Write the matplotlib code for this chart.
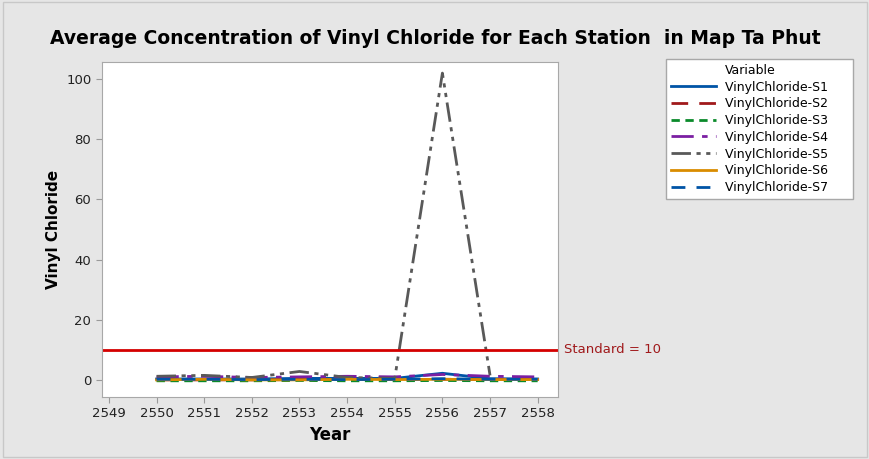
import matplotlib.pyplot as plt
from matplotlib.lines import Line2D
import numpy as np

years = [2550, 2551, 2552, 2553, 2554, 2555, 2556, 2557, 2558]
s1 = [0.3, 0.3, 0.3, 0.5, 0.5, 0.5, 2.2, 0.4, 0.3]
s2 = [0.0, 0.0, 0.0, 0.1, 0.1, 0.1, 0.2, 0.1, 0.1]
s3 = [-0.3, -0.3, -0.3, -0.2, -0.3, -0.3, -0.2, -0.3, -0.3]
s4 = [1.0, 1.2, 0.8, 1.0, 1.2, 1.0, 1.8, 1.2, 1.0]
s5 = [1.2, 1.5, 0.8, 2.8, 0.8, 0.5, 102.0, 1.5, np.nan]
s6 = [0.0, 0.2, 0.0, 0.0, 0.2, 0.1, 0.2, 0.1, 0.1]
s7 = [0.2, 0.2, 0.1, 0.2, 0.1, 0.2, 0.4, 0.2, 0.2]
standard = 10

labels = ['VinylChloride-S1', 'VinylChloride-S2', 'VinylChloride-S3',
          'VinylChloride-S4', 'VinylChloride-S5', 'VinylChloride-S6',
          'VinylChloride-S7']
series = [s1, s2, s3, s4, s5, s6, s7]
colors = ['#0054a6', '#a0191b', '#0a8a2a', '#7b1fa2', '#595959', '#d98c00', '#0054a6']
dashes = [(None, None), (6, 4), (3, 2), (8, 3, 2, 3), (7, 2, 1.5, 2, 1.5, 2),
          (None, None), (5, 4)]

fig = plt.figure(figsize=(8.7, 4.59), dpi=100, facecolor='#e6e6e6')
ax = fig.add_axes([0.117, 0.135, 0.524, 0.73])

# first legend row is just the "Variable" header
handles = [Line2D([], [], color='none')]
for y, c, d, lab in zip(series, colors, dashes, labels):
    ln, = ax.plot(years, y, color=c, lw=2, label=lab)
    if d[0] is not None:
        ln.set_dashes(d)
    handles.append(ln)

ax.axhline(standard, color='#d40000', lw=2)
ax.text(2558.55, standard, 'Standard = 10', color='#a0191b', fontsize=9.5,
        va='center', ha='left', clip_on=False)

ax.set_xlim(2548.85, 2558.42)
ax.set_ylim(-5.7, 105.7)
ax.set_xticks(range(2549, 2559))
ax.set_yticks([0, 20, 40, 60, 80, 100])
ax.tick_params(colors='#9a9a9a', labelcolor='#222222', labelsize=9.5, length=4)
for sp in ax.spines.values():
    sp.set_color('#a8a8a8')

ax.set_xlabel('Year', fontsize=12, fontweight='bold')
ax.set_ylabel('Vinyl Chloride', fontsize=11, fontweight='bold')

fig.text(0.5, 0.917, 'Average Concentration of Vinyl Chloride for Each Station  in Map Ta Phut',
         ha='center', va='center', fontsize=13.5, fontweight='bold')

leg_labels = ['Variable'] + [lab + '     ' for lab in labels]
leg = fig.legend(handles=handles, labels=leg_labels, loc='upper left',
                 bbox_to_anchor=(0.766, 0.872),
                 fontsize=9, frameon=True, fancybox=False, framealpha=1,
                 edgecolor='#a8a8a8', handlelength=3.6,
                 labelspacing=0.3, borderpad=0.4, handletextpad=0.7,
                 borderaxespad=0)
leg.get_frame().set_facecolor('white')

fig.patches.append(plt.Rectangle((0.003, 0.005), 0.994, 0.99, transform=fig.transFigure,
                                 fill=False, edgecolor='#c8c8c8', lw=1))

fig.savefig('out.png', dpi=100, facecolor=fig.get_facecolor())
